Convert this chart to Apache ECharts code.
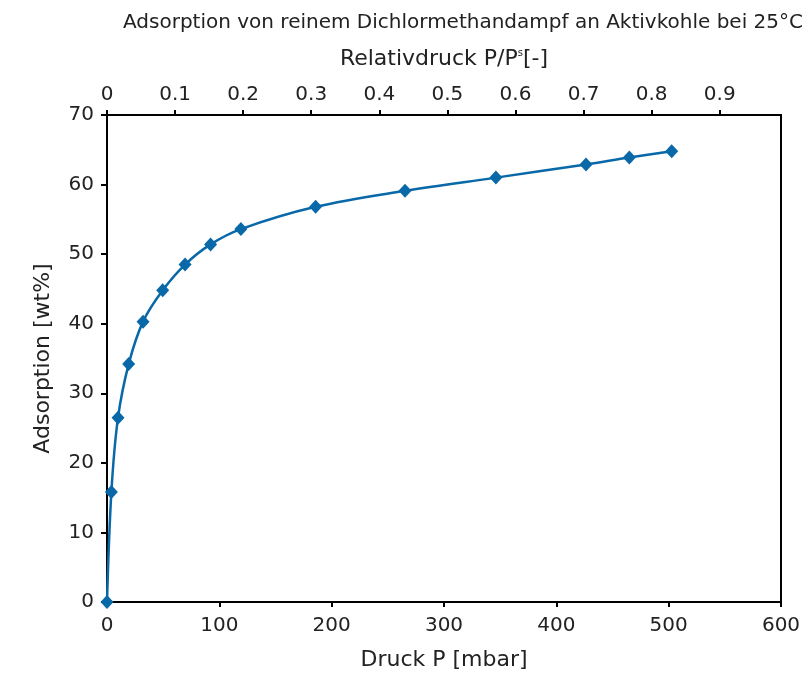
<!DOCTYPE html>
<html>
<head>
<meta charset="utf-8">
<script src="https://cdn.jsdelivr.net/npm/echarts@6/dist/echarts.min.js"></script>
<style>
  html, body { margin: 0; padding: 0; background: #fff; }
  #chart { width: 809px; height: 676px; }
</style>
</head>
<body>
<div id="chart"></div>
<script>
// Druck P [mbar] and Adsorption [wt%]
var pressure = [0, 3.9, 9.8, 19.3, 32.1, 49.6, 69.5, 92.2, 119.2, 185.7, 265.3, 346.2, 426.4, 465, 502.7]
var adsorption = [0, 15.8, 26.5, 34.2, 40.3, 44.8, 48.5, 51.4, 53.6, 56.8, 59.1, 61.0, 62.9, 63.9, 64.8]

var titleText = 'Adsorption von reinem Dichlormethandampf an Aktivkohle bei 25°C'
var fontFamily = 'DejaVu Sans'
var lineColor = '#0868a8'

var chart = echarts.init(document.getElementById('chart'))

var points = pressure.map(function (p, i) { return [p, adsorption[i]] })

chart.setOption({
  animation: false,
  backgroundColor: '#fff',
  title: {
    text: titleText,
    left: 458,
    top: 8,
    textAlign: 'center',
    textStyle: { fontFamily: fontFamily, fontWeight: 'normal', fontSize: 20, color: '#222' }
  },
  grid: {
    left: 107,
    right: 28,
    top: 115,
    bottom: 73,
    show: true,
    borderColor: '#000',
    borderWidth: 2
  },
  xAxis: [
    {
      type: 'value',
      position: 'bottom',
      min: 0,
      max: 600,
      interval: 100,
      name: 'Druck P [mbar]',
      nameLocation: 'middle',
      nameGap: 47,
      nameTextStyle: { fontFamily: fontFamily, fontSize: 22, color: '#222' },
      axisLine: { onZero: false, lineStyle: { color: '#000', width: 2 } },
      axisTick: { length: 5, lineStyle: { color: '#000', width: 2 } },
      axisLabel: { fontFamily: fontFamily, fontSize: 20, color: '#222', margin: 14 },
      splitLine: { show: false }
    },
    {
      type: 'value',
      position: 'top',
      min: 0,
      max: 0.99,
      interval: 0.1,
      name: 'Relativdruck P/P{s|s}[-]',
      nameLocation: 'middle',
      nameGap: 45,
      nameTextStyle: {
        fontFamily: fontFamily, fontSize: 22, color: '#222',
        rich: { s: { fontFamily: fontFamily, fontSize: 10, color: '#222', padding: [0, 0, 12, 0] } }
      },
      axisLine: { onZero: false, lineStyle: { color: '#000', width: 2 } },
      axisTick: { length: 5, lineStyle: { color: '#000', width: 2 } },
      axisLabel: { fontFamily: fontFamily, fontSize: 20, color: '#222', margin: 10, showMaxLabel: false },
      splitLine: { show: false }
    }
  ],
  yAxis: {
    type: 'value',
    min: 0,
    max: 70,
    interval: 10,
    name: 'Adsorption [wt%]',
    nameLocation: 'middle',
    nameGap: 53,
    nameTextStyle: { fontFamily: fontFamily, fontSize: 22, color: '#222' },
    axisLine: { show: true, onZero: false, lineStyle: { color: '#000', width: 2 } },
    axisTick: { show: true, length: 6, lineStyle: { color: '#000', width: 2 } },
    axisLabel: { fontFamily: fontFamily, fontSize: 20, color: '#222', margin: 13 },
    splitLine: { show: false }
  },
  series: [
    {
      type: 'line',
      xAxisIndex: 0,
      data: points,
      smooth: 0.35,
      symbol: 'diamond',
      symbolSize: [13, 14],
      itemStyle: { color: lineColor },
      lineStyle: { color: lineColor, width: 2.5 }
    }
  ]
})
</script>
</body>
</html>
